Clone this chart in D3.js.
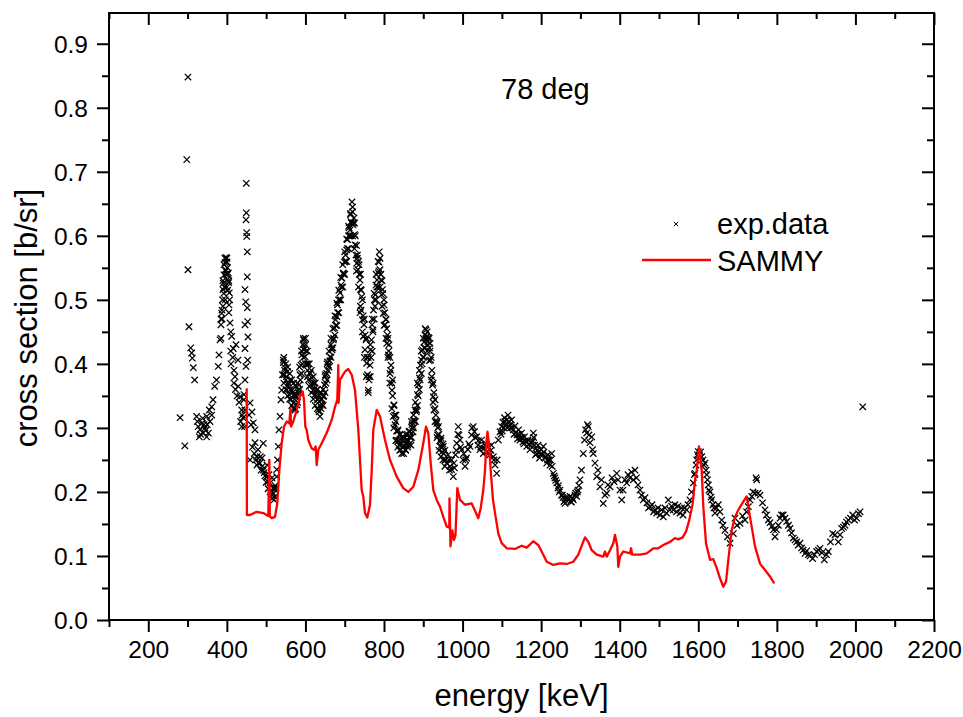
<!DOCTYPE html>
<html>
<head>
<meta charset="utf-8">
<script src="https://cdn.jsdelivr.net/npm/d3@7"></script>
<style>
  html, body { margin: 0; padding: 0; background: #fff; }
  svg { display: block; }
  text { font-family: "Liberation Sans", Arial, sans-serif; fill: #000; }
</style>
</head>
<body>
<svg id="chart" width="963" height="717"></svg>
<script>
// ---------- DATA ----------
const xMajorTicks = [200, 400, 600, 800, 1000, 1200, 1400, 1600, 1800, 2000, 2200];
const xMinorTicks = [100, 300, 500, 700, 900, 1100, 1300, 1500, 1700, 1900, 2100];
const yMajorTicks = [0.0, 0.1, 0.2, 0.3, 0.4, 0.5, 0.6, 0.7, 0.8, 0.9];
const yMinorTicks = [0.05, 0.15, 0.25, 0.35, 0.45, 0.55, 0.65, 0.75, 0.85];
const xTitle = "energy [keV]";
const yTitle = "cross section [b/sr]";
const annotation = "78 deg";
const legendLabels = ["exp.data", "SAMMY"];

// experimental data [energy keV, cross section b/sr]
const expEarly = [
  [281,0.316],[293,0.272],[298,0.719],[301,0.848],[301,0.547],[303.6,0.458],[308,0.425],[310.5,0.417],[312,0.409],[314.6,0.394],[318,0.375],
  [323,0.318],[325,0.31],[327,0.302],[330,0.286],[331.6,0.297],[333,0.29],[336,0.307],[338.4,0.315],[340,0.292],[342,0.305],[344.4,0.3],[346,0.296],
  [348.7,0.318],[348.7,0.286],[350,0.305],[352.8,0.292],[355.3,0.328],[357,0.31],[361.4,0.32],
  [361.4,0.333],[364.7,0.344],[369,0.365],[373.6,0.375],[378.2,0.396],[380,0.414],[382.5,0.4375],[385,0.461],[386.9,0.479],[387.6,0.484],[388,0.47],
  [389,0.5],[390,0.516],[390.9,0.526],[392.7,0.539],[392.7,0.555],[394,0.52],[395.3,0.558],[396,0.5],[396.6,0.547],[397.8,0.566],[398,0.54],
  [399.6,0.559],[400.4,0.531],[400.4,0.559],[401.6,0.55],[402,0.515],[403.7,0.542],[404.7,0.527],[405.5,0.492],[406.2,0.511],[408,0.464],
  [410.5,0.40],[412.3,0.443],[416.4,0.424],[418.2,0.39],[420.7,0.38],[423.3,0.43],[428.4,0.406],[429,0.365],[433.5,0.349],[437.8,0.328],
  [437.8,0.302],[441,0.316],[443.6,0.344],[443.6,0.352]
];
const expPeak450 = [
  [449.5,0.682],[449.5,0.636],[448.7,0.625],[450.5,0.605],[450.5,0.599],[452,0.575],[452,0.536],[446.2,0.516],[448,0.497],[452,0.4875],
  [453,0.466],[446.2,0.461],[453.8,0.442],[446.2,0.424],[453,0.406],[448.7,0.396],[446.2,0.375],[446.2,0.328],[444.9,0.302],[456.4,0.32],
  [458.9,0.339],[461.5,0.305],[464,0.325],[467.3,0.308],[471.6,0.297],
  [471.6,0.277],[459,0.25],[476,0.255],[476.7,0.242],[479.3,0.266],[484.4,0.245],[487,0.234],[489.5,0.253],[492.8,0.234],[492.8,0.276],
  [497,0.225],[501.4,0.224],[502.2,0.242],[504.7,0.216],[507.3,0.227],[509.8,0.214],[512.4,0.203],[514.9,0.222],[514.9,0.195],[518.2,0.198],
  [520,0.1875],[521.2,0.206],[522.5,0.193],[525,0.206],[526.9,0.224],[529,0.25],[531,0.271],[532.7,0.297],[535.3,0.318],[537.8,0.344],
  [539.6,0.359],[541.6,0.383],[543.7,0.406]
];
const expMid = [
  [543.7,0.402],[545.5,0.383],[548,0.394],[550.5,0.375],[552.3,0.359],[554.4,0.388],[556.4,0.367],[558.2,0.352],[560.7,0.375],[563.3,0.344],
  [565.8,0.359],[569.1,0.339],[570.9,0.352],[573.5,0.328],[576,0.347],[578.5,0.336],[581.1,0.359],[583.6,0.367],[586.2,0.383],[588.7,0.398],
  [591.2,0.414],[593.8,0.43],[594.6,0.4375],[596.4,0.422],[598.9,0.411],[600.2,0.43],[603.2,0.40],[605.3,0.39],[607.8,0.375],[611.6,0.386],
  [614.2,0.367],[616.7,0.378],[619.3,0.359],[621.8,0.37],[624.4,0.352],[628.7,0.359],[630.7,0.344],[633.3,0.328],[637.1,0.318],[639.7,0.344],
  [642.2,0.336],[645.5,0.349],[648.6,0.367],[651.1,0.383],[654.2,0.385],[656.2,0.403],[658.7,0.398],[662.5,0.411],[665.1,0.43],[667.6,0.422],
  [671,0.4375],[674,0.456],[676.5,0.469],[679.6,0.474],[681.6,0.492],[684.2,0.5],[688,0.511],[690.5,0.523],[693,0.534],[696.4,0.542],
  [699.4,0.559],[702,0.570],[705,0.578],[707,0.594],[709.6,0.6],[710.9,0.6125],[713.5,0.609],[714.7,0.633],[716,0.622],[718.5,0.653],
  [719.8,0.6375],[721.1,0.617],[723.6,0.628],[725,0.602],[726.2,0.586],[728.7,0.570],[730.5,0.557],[732.5,0.570],[733.8,0.547],[736.4,0.555],
  [738.9,0.531],[740.2,0.516],[743.2,0.505],[741.5,0.484],[738.9,0.48],[745.2,0.469],[747.3,0.443],[749.1,0.461],[751.6,0.422],[754.2,0.4375],
  [755.9,0.401],[758,0.383],[760.1,0.359],[761.8,0.375],[764.4,0.398],[765.6,0.422],[768.2,0.4375],[769.5,0.461],[772,0.453],[773.3,0.484],
  [775.8,0.5],[778.4,0.508],[779.6,0.523],[782.2,0.531],[785.5,0.542],[788,0.575],[787.3,0.559],[789.8,0.547],[792.4,0.531],[793.6,0.508],
  [796.2,0.516],[798.2,0.479],[800,0.492],[802.6,0.461],[805.1,0.469],[806.9,0.432],[808.9,0.445],[811.5,0.414],[812.7,0.43],[815.3,0.385],
  [817.8,0.398],[820.4,0.359],[821.6,0.375],[823.7,0.318],[825.5,0.336],[828,0.305],[830.6,0.32],[832.3,0.281],[835.6,0.297],[838.2,0.273],
  [840.7,0.289],[843.3,0.266],[845.8,0.281],[849.1,0.271],[852.2,0.284],[854.7,0.266],[857.3,0.281],[861.1,0.273],[863.6,0.294],[866.2,0.286],
  [868.7,0.273],[871.3,0.305],[873.8,0.294],[876.4,0.3125],[878.9,0.328],[883.2,0.328],[885.3,0.352],[887.8,0.367],[890.4,0.378],[892.9,0.398],
  [895.5,0.406],[898,0.422],[900,0.411],[901.9,0.434],[904.4,0.445],[907,0.453],[908.7,0.443],[910.8,0.43],[913.3,0.441],[915.9,0.425],
  [917.1,0.432],[918.4,0.406],[921.4,0.38],[923.5,0.367],[925.5,0.349],[927.3,0.328],[929.8,0.344],[934.2,0.307],[936.2,0.289],[938.7,0.302],
  [942.6,0.271],[945.1,0.284],[947.7,0.2625],[951,0.271],[955.3,0.25],[959.6,0.245],[962.9,0.258],[966.7,0.234],[968,0.24],[971.8,0.25],
  [976.4,0.224],[979.4,0.2375],[982,0.258],[985.1,0.276],[989.1,0.302],[990.9,0.289],[993.5,0.281],[997.3,0.266],[1001.1,0.25],[1006.2,0.24],
  [1010,0.253],[1013.8,0.266],[1018.9,0.271],[1022.7,0.289],[1027.3,0.302],[1030.3,0.294],[1036,0.286],[1039.3,0.273],[1044.4,0.266],[1048.2,0.281],
  [1052.8,0.26],[1057.1,0.273],[1061,0.2625],[1065.5,0.271],[1069.8,0.258],[1073.6,0.273],[1078.2,0.255],[1082.6,0.242],[1086.9,0.229],[1091,0.281],
  [1095.3,0.294],[1099.6,0.302],[1102.9,0.309],[1106.8,0.316],[1112.4,0.3125],[1115.7,0.32],[1120.8,0.305],[1124.6,0.3125],[1129.2,0.297],[1133.5,0.303],
  [1138.6,0.289],[1142.4,0.297],[1146.2,0.281],[1150,0.292],[1153.8,0.278],[1157.6,0.286],[1163.3,0.271],[1166.6,0.281],[1171.7,0.266],[1175.5,0.277],
  [1180,0.292],[1183.1,0.273],[1185.7,0.258],[1188.7,0.26],[1192,0.273],[1195.9,0.253],[1199.7,0.266],[1205.5,0.271],[1209.8,0.253],[1214.2,0.245],
  [1217.5,0.258],[1222.6,0.242],[1226.9,0.26],[1231,0.229],[1235.3,0.222],[1239.6,0.214],[1242.9,0.206],[1248,0.203],[1251.9,0.195],[1255.7,0.191],
  [1260.8,0.182],[1264.6,0.192],[1268.4,0.1875],[1273.5,0.193],[1277.3,0.184],[1281.9,0.1875],[1286.2,0.195],[1290.5,0.193],[1293.8,0.203],[1298.9,0.219]
];
// upper / lower edges of the dense band of experimental points
const expBand = [
  [385,0.47],[390,0.53],[395,0.565],[400,0.565],[405,0.53],[410,0.45],[385,0.44],[390,0.49],[395,0.52],[400,0.52],[405,0.48],[410,0.42],
  [415,0.41],[418,0.37],[422,0.36],[426,0.35],[431,0.34],[435,0.31],[439,0.32],
  [465,0.27],[470,0.26],[474,0.25],[480,0.245],[485,0.255],[490,0.24],[495,0.23],[500,0.215],[505,0.205],[510,0.2],[516,0.19],[519,0.205],[523,0.21],[527,0.235],
  [545,0.41],[550,0.40],[555,0.395],[560,0.385],[565,0.375],[570,0.37],[575,0.365],[580,0.37],[585,0.395],[590,0.42],[595,0.44],
  [545,0.37],[550,0.36],[555,0.35],[560,0.345],[565,0.335],[570,0.33],[575,0.33],[580,0.34],[585,0.36],[590,0.385],[595,0.41],
  [600,0.44],[605,0.42],[610,0.40],[615,0.39],[620,0.38],[625,0.37],[630,0.36],[635,0.35],[640,0.355],
  [600,0.40],[605,0.38],[610,0.365],[615,0.355],[620,0.345],[625,0.335],[630,0.33],[635,0.325],[640,0.33],
  [645,0.36],[650,0.38],[655,0.40],[660,0.42],[665,0.44],[670,0.455],[675,0.475],[680,0.495],[685,0.515],[690,0.535],[695,0.555],[700,0.575],[705,0.595],[710,0.615],[715,0.635],
  [645,0.335],[650,0.355],[655,0.375],[660,0.395],[665,0.41],[670,0.425],[675,0.445],[680,0.46],[685,0.48],[690,0.5],[695,0.52],[700,0.54],[705,0.56],[710,0.58],[715,0.6],
  [720,0.645],[725,0.62],[730,0.585],[735,0.56],[740,0.54],[745,0.5],[750,0.47],[755,0.44],[760,0.41],
  [720,0.6],[725,0.58],[730,0.545],[735,0.52],[740,0.49],[745,0.45],[750,0.41],[755,0.38],[760,0.355],
  [765,0.43],[770,0.47],[775,0.51],[780,0.54],[785,0.56],[790,0.565],[795,0.53],[800,0.5],
  [765,0.38],[770,0.42],[775,0.47],[780,0.5],[785,0.52],[790,0.52],[795,0.49],[800,0.46],
  [805,0.47],[810,0.44],[815,0.41],[820,0.37],[825,0.335],[830,0.31],[835,0.295],[840,0.29],[845,0.285],[850,0.285],[855,0.29],[860,0.29],[865,0.295],[870,0.31],[875,0.32],
  [805,0.44],[810,0.41],[815,0.37],[820,0.33],[825,0.3],[830,0.28],[835,0.27],[840,0.265],[845,0.26],[850,0.26],[855,0.265],[860,0.27],[865,0.275],[870,0.285],[875,0.3],
  [880,0.34],[885,0.37],[890,0.39],[895,0.42],[900,0.44],[905,0.455],[910,0.45],[915,0.44],[920,0.41],[925,0.37],[930,0.33],[935,0.31],[940,0.29],[945,0.28],[950,0.275],[955,0.265],
  [880,0.31],[885,0.335],[890,0.36],[895,0.385],[900,0.41],[905,0.425],[910,0.42],[915,0.405],[920,0.375],[925,0.34],[930,0.31],[935,0.285],[940,0.265],[945,0.255],[950,0.25],[955,0.24],
  [965,0.25],[972,0.235],[978,0.245],[984,0.265],[988,0.29],[995,0.27],[1003,0.26],[1008,0.25],[1016,0.275],[1024,0.3],[1032,0.285],[1040,0.28],
  [1046,0.27],[1054,0.268],[1060,0.275],[1066,0.26],[1072,0.265],[1080,0.25],[1088,0.25],
  [1098,0.29],[1105,0.3],[1110,0.305],[1118,0.31],[1126,0.3],[1135,0.292],[1144,0.29],[1152,0.285],[1160,0.28],[1168,0.274],[1178,0.28],[1186,0.268],
  [1194,0.262],[1202,0.26],[1212,0.255],[1220,0.25],[1228,0.24],[1237,0.218],[1246,0.2],[1254,0.195],[1262,0.188],[1270,0.19],[1280,0.19],[1288,0.198],[1296,0.21]
];
// middle of the dense band
const expBandMid = [
  [392,0.51],[397,0.545],[402,0.54],[407,0.5],
  [547,0.39],[552,0.38],[557,0.37],[562,0.36],[567,0.355],[572,0.35],[577,0.35],[582,0.355],[587,0.375],[592,0.4],[597,0.425],
  [602,0.42],[607,0.4],[612,0.385],[617,0.37],[622,0.36],[627,0.35],[632,0.345],[637,0.335],[642,0.345],
  [647,0.35],[652,0.37],[657,0.39],[662,0.405],[667,0.425],[672,0.44],[677,0.46],[682,0.48],[687,0.5],[692,0.52],[697,0.54],[702,0.56],[707,0.58],[712,0.6],[717,0.62],
  [722,0.62],[727,0.6],[732,0.565],[737,0.54],[742,0.515],[747,0.475],[752,0.445],[757,0.41],[762,0.38],
  [767,0.41],[772,0.45],[777,0.49],[782,0.52],[787,0.545],[792,0.54],[797,0.51],[802,0.48],
  [807,0.455],[812,0.42],[817,0.39],[822,0.35],[827,0.32],[832,0.295],[837,0.28],[842,0.275],[847,0.27],[852,0.272],[857,0.275],[862,0.28],[867,0.285],[872,0.3],[877,0.31],
  [882,0.325],[887,0.35],[892,0.375],[897,0.4],[902,0.425],[907,0.44],[912,0.435],[917,0.42],[922,0.39],[927,0.355],[932,0.32],[937,0.3],[942,0.28],[947,0.27],[952,0.26],[957,0.25],
  [1101,0.295],[1108,0.31],[1114,0.3],[1122,0.3],[1131,0.29],[1140,0.283],[1148,0.285],[1156,0.275],[1164,0.278],[1173,0.272],[1181,0.285],[1190,0.265],
  [1198,0.258],[1207,0.262],[1216,0.25],[1224,0.25],[1233,0.225],[1244,0.21],[1258,0.185],[1275,0.185],[1292,0.2]
];
const expLate = [
  [1302.7,0.234],[1307.3,0.26],[1310.4,0.281],[1312.9,0.297],[1316,0.292],[1318,0.305],[1320.1,0.302],[1321.9,0.289],[1324.4,0.277],[1328.7,0.286],
  [1330.8,0.266],[1332.8,0.26],[1337.1,0.245],[1341.4,0.224],[1344.7,0.234],[1349.8,0.208],[1353.6,0.219],[1358.2,0.182],[1362.6,0.195],[1366.9,0.198],
  [1370.2,0.211],[1375.3,0.208],[1380.4,0.222],[1385.5,0.216],[1392.3,0.229],[1395.7,0.219],[1400.7,0.203],[1405.1,0.1875],[1408.4,0.203],[1413.5,0.219],
  [1417.8,0.214],[1421.1,0.227],[1426.2,0.222],[1430,0.231],[1434.6,0.219],[1438.9,0.234],[1442.7,0.222],[1446.5,0.211],[1451.6,0.203],[1455.5,0.195],
  [1460,0.1875],[1464.3,0.191],[1469.5,0.183],[1473.3,0.175],[1477.1,0.177],[1482.2,0.18],[1486,0.169],[1489.8,0.172],[1494.2,0.167],[1497.5,0.175],
  [1502.5,0.164],[1506.4,0.172],[1511,0.161],[1515.3,0.175],[1519.1,0.167],[1523.7,0.1875],[1528,0.172],[1531.9,0.178],[1536.5,0.172],[1540.7,0.18],
  [1544.6,0.169],[1548.4,0.178],[1553.4,0.167],[1557.3,0.175],[1561.1,0.164],[1564.9,0.175],[1570.5,0.172],[1573.8,0.18],[1578.8,0.1875],[1582.7,0.2],
  [1587.3,0.214],[1590.3,0.227],[1591.6,0.229],[1594.2,0.242],[1596,0.25],[1598,0.258],[1600,0.263],[1603.1,0.258],[1605.6,0.2625],[1608.7,0.255],
  [1612,0.25],[1614.5,0.242],[1617,0.245],[1619.6,0.234],[1621.4,0.227],[1623.4,0.219],[1625.5,0.211],[1627.3,0.203],[1629.8,0.20],[1632.4,0.192],
  [1634.1,0.1875],[1637.4,0.18],[1640,0.175],[1642.5,0.167],[1646.3,0.175],[1650.9,0.18],[1655.3,0.169],[1659.6,0.156],[1662.9,0.148],[1668,0.14],
  [1674.4,0.13],[1680.8,0.12],[1689.2,0.135],[1693.5,0.159],[1698.6,0.148],[1706.2,0.151],[1712.6,0.1625],[1719,0.156],[1722.8,0.169],[1727.4,0.177],
  [1731.7,0.1875],[1736,0.193],[1739.3,0.2],[1744.4,0.198],[1747,0.222],[1748.7,0.219],[1752,0.198],[1757.1,0.195],[1763.5,0.183],[1769.8,0.172],
  [1773.7,0.164],[1778.3,0.156],[1782.5,0.152],[1786.9,0.146],[1791.4,0.141],[1795.3,0.13],[1799.1,0.141],[1803.7,0.148],[1808,0.159],[1811.8,0.164],
  [1816.4,0.164],[1820.7,0.159],[1825,0.154],[1829.6,0.148],[1833.5,0.143],[1837.3,0.136],[1841.9,0.128],[1846.3,0.125],[1850.5,0.122],[1854.6,0.117],
  [1858.9,0.12],[1862.8,0.1125],[1866.6,0.109],[1871.7,0.104],[1876,0.108],[1880,0.102],[1884.4,0.1],[1891,0.096],[1895.7,0.102],[1901.3,0.107],
  [1905.9,0.109],[1909.8,0.112],[1914.8,0.105],[1920.7,0.094],[1926.3,0.102],[1930.9,0.107],[1936.5,0.122],[1942.1,0.135],[1948,0.133],[1956.4,0.122],
  [1960.7,0.133],[1965,0.143],[1969.6,0.145],[1973.5,0.148],[1977.3,0.153],[1981.9,0.156],[1987.5,0.159],[1993.1,0.164],[1997.7,0.156],[2003.3,0.159],
  [2007.9,0.166],[2011.7,0.169],[2018.6,0.333]
];

// SAMMY fit curve [energy keV, cross section b/sr]
const sammyCurve = [
  [450.5,0.362],[451,0.164],[458.9,0.164],[476,0.169],[492.8,0.167],[505.5,0.1625],[508,0.25],[509.3,0.162],[514,0.159],[522.5,0.161],
  [528.4,0.182],[533.5,0.234],[539.6,0.276],[545.5,0.302],[552.3,0.31],[559,0.307],[562,0.331],[563.3,0.302],[569.1,0.31],[577.8,0.328],
  [586.2,0.349],[593,0.357],[596.4,0.344],[599.7,0.302],[603.2,0.297],[607.3,0.281],[616,0.268],[621.8,0.266],[626.1,0.271],[628.7,0.242],
  [632.8,0.266],[641.4,0.276],[654.1,0.292],[666.9,0.3125],[675.3,0.333],[681.1,0.344],[683.7,0.398],[684.4,0.339],[688,0.375],[700.7,0.388],
  [709.1,0.392],[717.8,0.383],[726.2,0.359],[734.6,0.297],[743.2,0.203],[747.3,0.193],[751.6,0.167],[757.5,0.16],[764.4,0.18],[768.7,0.234],
  [772.8,0.297],[781.4,0.328],[789.8,0.318],[802.6,0.281],[815.3,0.25],[832.3,0.224],[849.1,0.206],[861.9,0.20],[874.6,0.208],[887.3,0.234],
  [900,0.276],[906.9,0.302],[912.8,0.292],[918.9,0.245],[925.5,0.203],[934.2,0.1875],[942.6,0.177],[951,0.161],[959.6,0.146],[966.2,0.144],
  [966.7,0.19],[969.3,0.115],[973.9,0.14],[978.2,0.125],[982,0.133],[986.6,0.206],[993.5,0.1875],[1006.2,0.18],[1023.3,0.182],[1034.2,0.167],
  [1040,0.159],[1046.2,0.175],[1052.8,0.203],[1057.1,0.234],[1061,0.281],[1063.5,0.294],[1067.3,0.273],[1072.4,0.227],[1077.5,0.1875],[1082.6,0.167],
  [1091,0.135],[1099.6,0.12],[1112.4,0.112],[1133.5,0.111],[1150.5,0.116],[1163.3,0.113],[1180,0.123],[1192.8,0.117],[1205.5,0.102],[1214.2,0.091],
  [1231,0.086],[1248,0.0886],[1265,0.0875],[1281.9,0.091],[1294.6,0.102],[1305.8,0.12],[1311.7,0.129],[1320.1,0.122],[1328.7,0.109],[1341.4,0.102],
  [1358.2,0.099],[1362.6,0.107],[1366.9,0.099],[1375.3,0.109],[1383.7,0.12],[1388,0.133],[1393.9,0.115],[1396.4,0.083],[1400.7,0.099],[1409.1,0.107],
  [1426.2,0.104],[1428.7,0.112],[1432,0.102],[1451.6,0.102],[1468.7,0.104],[1485.5,0.112],[1498.2,0.112],[1510.9,0.117],[1528,0.122],[1540.7,0.128],
  [1549.1,0.126],[1560.3,0.129],[1568.7,0.138],[1577.1,0.156],[1585.8,0.182],[1591.7,0.219],[1596,0.234],[1601.8,0.271],[1608.7,0.234],[1612.8,0.177],
  [1619.6,0.12],[1629.8,0.094],[1638.2,0.095],[1646.9,0.081],[1655.3,0.065],[1663.7,0.052],[1670.6,0.06],[1676.4,0.094],[1685,0.14],[1693.4,0.161],
  [1701.9,0.172],[1714.6,0.185],[1723.1,0.193],[1731.6,0.161],[1744.4,0.115],[1757.1,0.088],[1769.8,0.078],[1782.5,0.068],[1793.4,0.057]
];

// ---------- CHART ----------
const svg = d3.select("#chart");
const L = 109, R = 934, T = 13, B = 620;
const x = d3.scaleLinear().domain([100, 2200]).range([L, R]);
const y = d3.scaleLinear().domain([0, 0.948]).range([B, T]);

const FONT_TICK = 24.5;

// exp data crosses
const crossPath = s => `M${-s},${-s}L${s},${s}M${-s},${s}L${s},${-s}`;
const expAll = expEarly.concat(expPeak450, expMid, expBand, expBandMid, expLate);
svg.append("g").selectAll("path").data(expAll).join("path")
  .attr("d", crossPath(3.2))
  .attr("transform", d => `translate(${x(d[0])},${y(d[1])})`)
  .attr("stroke", "#000").attr("stroke-width", 1.25).attr("fill", "none");

// SAMMY line
svg.append("path").datum(sammyCurve)
  .attr("d", d3.line().x(d => x(d[0])).y(d => y(d[1])))
  .attr("fill", "none").attr("stroke", "#ff0000").attr("stroke-width", 2.3)
  .attr("stroke-linejoin", "round");

// axes
function styleAxis(g) {
  g.select(".domain").remove();
  g.selectAll("line").attr("stroke", "#000").attr("stroke-width", 2);
  g.selectAll("text").style("font-size", FONT_TICK + "px")
    .style("font-family", '"Liberation Sans", Arial, sans-serif');
}
// bottom
svg.append("g").attr("transform", `translate(0,${B})`)
  .call(d3.axisBottom(x).tickValues(xMajorTicks).tickSize(12).tickPadding(9).tickFormat(d3.format("d")))
  .call(styleAxis);
svg.append("g").attr("transform", `translate(0,${B})`)
  .call(d3.axisBottom(x).tickValues(xMinorTicks).tickSize(7).tickFormat(""))
  .call(styleAxis);
// top (inward)
svg.append("g").attr("transform", `translate(0,${T})`)
  .call(d3.axisBottom(x).tickValues(xMajorTicks).tickSize(12).tickFormat(""))
  .call(styleAxis);
svg.append("g").attr("transform", `translate(0,${T})`)
  .call(d3.axisBottom(x).tickValues(xMinorTicks).tickSize(6).tickFormat(""))
  .call(styleAxis);
// left
svg.append("g").attr("transform", `translate(${L},0)`)
  .call(d3.axisLeft(y).tickValues(yMajorTicks).tickSize(12).tickPadding(9).tickFormat(d3.format(".1f")))
  .call(styleAxis)
  .call(g => g.selectAll("text").attr("dy", "0.36em"));
svg.append("g").attr("transform", `translate(${L},0)`)
  .call(d3.axisLeft(y).tickValues(yMinorTicks).tickSize(7).tickFormat(""))
  .call(styleAxis);
// right (inward)
svg.append("g").attr("transform", `translate(${R},0)`)
  .call(d3.axisLeft(y).tickValues(yMajorTicks).tickSize(12).tickFormat(""))
  .call(styleAxis);
svg.append("g").attr("transform", `translate(${R},0)`)
  .call(d3.axisLeft(y).tickValues(yMinorTicks).tickSize(7).tickFormat(""))
  .call(styleAxis);

// frame
svg.append("rect").attr("x", L).attr("y", T).attr("width", R - L).attr("height", B - T)
  .attr("fill", "none").attr("stroke", "#000").attr("stroke-width", 2);

// titles
svg.append("text").attr("x", (L + R) / 2).attr("y", 706).attr("text-anchor", "middle")
  .style("font-size", "31px").text(xTitle);
svg.append("text").attr("transform", "translate(37,318) rotate(-90)")
  .attr("text-anchor", "middle").style("font-size", "31px").text(yTitle);

// annotation
svg.append("text").attr("x", 501).attr("y", 99).style("font-size", "29px").text(annotation);

// legend
svg.append("path").attr("d", crossPath(2.2)).attr("transform", "translate(676,224)")
  .attr("stroke", "#000").attr("stroke-width", 1).attr("fill", "none");
svg.append("text").attr("x", 717).attr("y", 234).style("font-size", "29px").text(legendLabels[0]);
svg.append("line").attr("x1", 642).attr("x2", 711).attr("y1", 260).attr("y2", 260)
  .attr("stroke", "#ff0000").attr("stroke-width", 2.3);
svg.append("text").attr("x", 717).attr("y", 271).style("font-size", "29px").text(legendLabels[1]);
</script>
</body>
</html>
